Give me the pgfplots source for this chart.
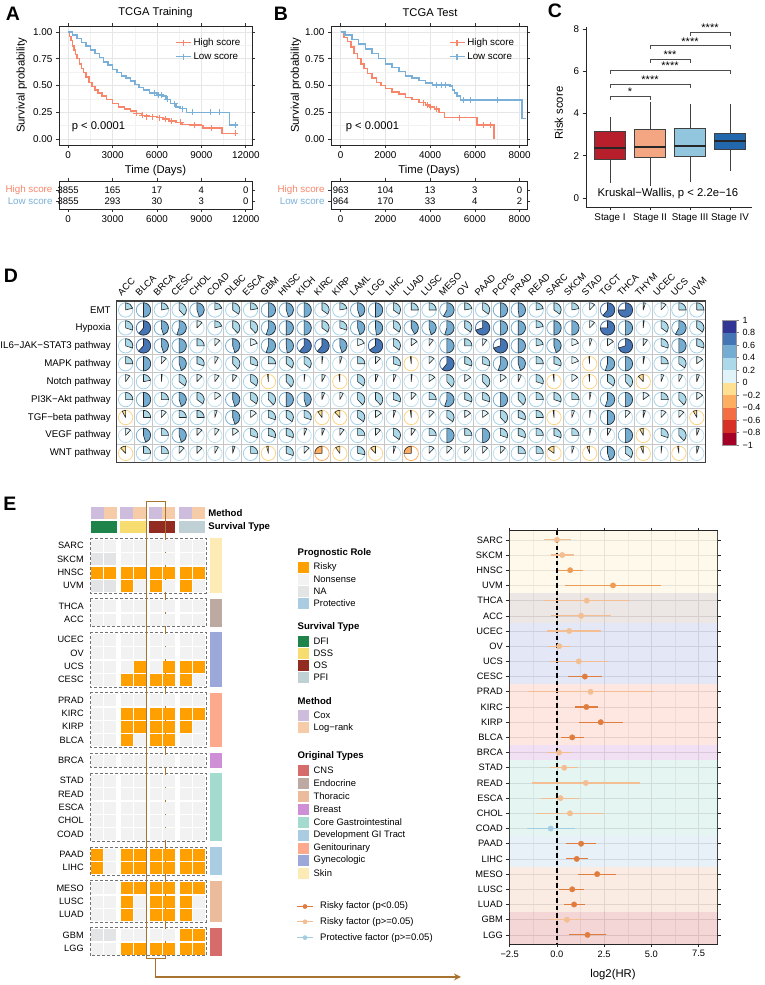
\documentclass[border=0pt]{standalone}
\usepackage{fontspec}
\setmainfont{Liberation Sans}
\usepackage{pgfplots}
\usepackage{pgfplotstable}
\pgfplotsset{compat=1.18}
\usepgfplotslibrary{statistics}
\usetikzlibrary{arrows.meta}
\newcommand{\fs}[1]{\fontsize{#1}{#1}\selectfont}
\pgfplotsset{/pgf/number format/assume math mode=true, scaled ticks=false}

\definecolor{hi}{HTML}{F8866A}
\definecolor{lo}{HTML}{7AB0D8}
\definecolor{gridc}{HTML}{E6E6E6}
\definecolor{gridm}{HTML}{F2F2F2}
\definecolor{st1}{HTML}{B71F2D}
\definecolor{st2}{HTML}{F4A582}
\definecolor{st3}{HTML}{92C5DE}
\definecolor{st4}{HTML}{2367AD}
\definecolor{rb1}{HTML}{A50026}
\definecolor{rb2}{HTML}{D73027}
\definecolor{rb3}{HTML}{F46D43}
\definecolor{rb4}{HTML}{FDAE61}
\definecolor{rb5}{HTML}{FEE090}
\definecolor{rb6}{HTML}{E0F3F8}
\definecolor{rb7}{HTML}{ABD9E9}
\definecolor{rb8}{HTML}{74ADD1}
\definecolor{rb9}{HTML}{4575B4}
\definecolor{rb10}{HTML}{313695}
\definecolor{rr5}{HTML}{FBD486}
\definecolor{rr6}{HTML}{BEE0EE}
\definecolor{rr7}{HTML}{A3D2E8}
\definecolor{risky}{HTML}{FFA000}
\definecolor{nons}{HTML}{F2F2F2}
\definecolor{nacol}{HTML}{E3E4E6}
\definecolor{prot}{HTML}{A9CCE3}
\definecolor{dfi}{HTML}{1E8449}
\definecolor{dss}{HTML}{F7DC6F}
\definecolor{os}{HTML}{922B21}
\definecolor{pfi}{HTML}{BFD1D5}
\definecolor{cox}{HTML}{CDBCDB}
\definecolor{logr}{HTML}{F6CBA8}
\definecolor{cns}{HTML}{D66B6B}
\definecolor{endo}{HTML}{BBA9A2}
\definecolor{thor}{HTML}{ECBB9B}
\definecolor{brea}{HTML}{CE8FD6}
\definecolor{cgi}{HTML}{A3DBCF}
\definecolor{dgi}{HTML}{A9CCE3}
\definecolor{geni}{HTML}{FCA98E}
\definecolor{gyne}{HTML}{9DA8DA}
\definecolor{skin}{HTML}{FDEBB6}
\definecolor{hl}{HTML}{A8732E}
\definecolor{fsig}{HTML}{E07D3E}
\definecolor{fsigl}{HTML}{EE9C55}
\definecolor{fns}{HTML}{F3BE92}
\definecolor{fprot}{HTML}{A3CDE3}

\def\pvg{0}
\newcommand\pickcol[1]{%
 \ifdim#1pt<-0.8pt \def\fc{rb1}\def\rc{rb1}\else
 \ifdim#1pt<-0.6pt \def\fc{rb2}\def\rc{rb2}\else
 \ifdim#1pt<-0.4pt \def\fc{rb3}\def\rc{rb3}\else
 \ifdim#1pt<-0.2pt \def\fc{rb4}\def\rc{rb4}\else
 \ifdim#1pt<0pt \def\fc{rb5}\def\rc{rr5}\else
 \ifdim#1pt<0.2pt \def\fc{rb6}\def\rc{rr6}\else
 \ifdim#1pt<0.4pt \def\fc{rb7}\def\rc{rr7}\else
 \ifdim#1pt<0.6pt \def\fc{rb8}\def\rc{rb8}\else
 \ifdim#1pt<0.8pt \def\fc{rb9}\def\rc{rb9}\else
 \def\fc{rb10}\def\rc{rb10}\fi\fi\fi\fi\fi\fi\fi\fi\fi}
\pgfdeclareplotmark{pie}{%
  \pickcol{\pvg}%
  \pgfmathsetmacro\pieang{90-360*\pvg}%
  \draw[\rc, line width=0.8pt] (0pt,0pt) circle[radius=7.2pt];%
  \filldraw[fill=\fc, draw=black!85, line width=0.6pt, line join=round] (0pt,0pt) -- (0pt,7.2pt) arc[start angle=90, end angle=\pieang, radius=7.2pt] -- cycle;%
}

\pgfplotstableread{
r c1 c2 c3 c4 c5 c6 c7 c8 c9 c10 c11 c12 c13 c14 c15 c16 c17 c18 c19 c20 c21 c22 c23 c24 c25 c26 c27 c28 c29 c30 c31 c32 c33
1 0.21 0.5 0.22 0.38 0.45 0.21 0.35 0.22 0.5 0.45 0.5 0.35 0.22 0.45 0.5 0.35 0.25 0.25 0.58 0.22 0.35 0.5 0.48 0.22 0.35 0.22 0.12 0.61 0.75 0.05 0.12 0.25 0.25
2 0.3 0.61 0.45 0.55 0.12 0.21 0.38 0.38 0.55 0.5 0.5 0.35 0.3 0.45 0.48 0.35 0.42 0.45 0.55 0.35 0.7 0.5 0.5 0.22 0.5 0.5 0.12 0.75 0.5 0.02 0.35 0.58 0.35
3 0.3 0.62 0.45 0.5 0.25 0.12 0.45 0.19 0.55 0.48 0.61 0.61 0.45 0.19 0.65 0.35 0.15 0.1 0.5 0.25 0.1 0.7 0.5 0.22 0.45 0.19 0.05 0.15 0.7 0.1 0.3 0.5 0.3
4 0.25 0.5 0.12 0.45 0.3 0.08 0.38 0.3 0.25 0.35 0.35 0.02 0.05 0.25 0.12 0.3 -0.02 0.12 0.61 0.3 0.3 0.55 0.45 0.25 0.3 0.19 -0.02 0.55 0.5 0.03 0.25 0.35 0.15
5 0.1 0.22 0.02 0.35 0.12 0.1 0.1 0.35 -0.02 0.38 0.02 0.08 -0.02 0.35 0.06 0.06 0.02 0.15 0.38 0.15 0.38 0.15 0.07 0.3 -0.02 0.15 -0.02 0.35 0.38 -0.12 0.06 0.08 0.06
6 0.25 0.5 0.25 0.45 0.35 0.15 0.45 0.35 0.38 0.5 0.45 0.06 0.08 0.38 0.38 0.3 0.12 0.25 0.55 0.3 0.3 0.5 0.38 0.25 0.3 0.25 0.03 0.55 0.5 0.15 0.25 0.38 0.15
7 -0.08 0.25 0.12 0.25 0.25 0.05 0.45 0.15 0.3 0.35 0.3 -0.1 -0.12 0.35 0.15 0.05 -0.02 0.12 0.35 0.15 0.15 0.38 0.3 0.25 -0.02 0.06 0.02 0.5 0.12 0.05 0.12 0.12 -0.08
8 0.12 0.45 0.25 0.45 0.12 0.1 0.15 0.3 0.3 0.3 0.06 0.06 0.1 0.25 0.12 0.35 0.1 0.25 0.5 0.25 0.5 0.3 0.3 0.25 0.3 0.25 0.03 0.08 0.5 -0.08 0.3 0.38 0.06
9 -0.12 0.25 0.25 0.12 0.12 0.08 0.05 0.25 -0.04 0.3 0.12 -0.25 -0.1 0.28 -0.12 0.05 -0.25 0.12 0.12 0.12 0.12 0.12 0.25 0.25 -0.15 0.05 -0.06 0.45 0.35 -0.06 0.02 -0.03 0.05
}\pietab

\pgfplotstableread{
y c1 c2 c3 c4 c5 c6 c7 c8
0 N N N N N N N N
1 A A N N N N N N
2 R R R R R R R R
3 A A R N R N R N
4.525 N N N N N N N N
5.525 N N N N N N N N
7.05 N N N N N N N N
8.05 N N N N N N N N
9.05 N N N R N R R R
10.05 N N R R R R R N
11.575 N N N N N N N N
12.575 N N R R R R R R
13.575 N N R R R R R N
14.575 N N R N R R N N
16.1 N N N N N N N N
17.625 N N N N N N N N
18.625 N N N N N N N N
19.625 N N N N N N N N
20.625 N N N N N N N N
21.625 N N N N N N N N
23.15 R N R R R R R R
24.15 R N R R R R R R
25.675 N N R R R R R R
26.675 N N R N R R R N
27.675 N N R N R R R N
29.2 A A N N N N R R
30.2 N N R R R R R R
}\hm

\pgfplotsset{
 kmaxis/.style={anchor=north west, scale only axis, height=119pt, ymin=-0.056, ymax=1.056,
  ytick={0,0.25,0.5,0.75,1}, yticklabels={0.00,0.25,0.50,0.75,1.00},
  minor ytick={0.125,0.375,0.625,0.875},
  grid=both, major grid style={gridc, line width=0.6pt}, minor grid style={gridm, line width=0.4pt},
  tick align=outside, major tick length=3pt, minor tick length=0pt,
  tick style={black!80, line width=0.6pt}, axis line style={black!85, line width=0.8pt},
  tick label style={font=\fs{9.9}},
  xlabel={Time (Days)}, xlabel style={font=\fs{11.3}, at={(axis description cs:0.5,-0.215)}, anchor=center},
  ylabel={Survival probability}, ylabel style={font=\fs{11.3}, anchor=center},
  legend style={anchor=north west, draw=none, fill=none, font=\fs{9.8}, inner sep=0pt, row sep=1.5pt, cells={anchor=west}},
  legend image code/.code={\draw[mark repeat=2,mark phase=2,##1] plot coordinates {(0pt,0pt) (7.5pt,0pt) (15pt,0pt)};}},
 riskaxis/.style={anchor=north west, scale only axis, height=28pt, ymin=0.273, ymax=2.818, ytick={1,2},
  yticklabels={\textcolor{lo}{Low score},\textcolor{hi}{High score}},
  tick align=outside, major tick length=3pt, tick style={black!80, line width=0.6pt},
  axis line style={black!85, line width=0.8pt}, tick label style={font=\fs{9.8}}},
 rnum/.style={draw=none, nodes near coords, point meta=explicit symbolic, nodes near coords align={center},
  every node near coord/.append style={font=\fs{9.5}, anchor=center}},
}

\newcommand\lk[3]{\fill[#2] (298.3pt,-#1pt) ++(0pt,5.5pt) rectangle ++(11pt,-11pt); \node[anchor=west, inner sep=0pt, font=\fs{9.4}] at (313.5pt,-#1pt) {#3};}
\newcommand\lt[2]{\node[anchor=west, inner sep=0pt, font=\bfseries\fs{9.6}] at (297.5pt,-#1pt) {#2};}

\begin{document}
\begin{tikzpicture}
\useasboundingbox (0pt,0pt) rectangle (764pt,-985pt);
\node[font=\bfseries\fs{19.5}] at (13pt,-14pt) {A};
\node[font=\bfseries\fs{19.5}] at (281pt,-14pt) {B};
\node[font=\bfseries\fs{19.5}] at (555pt,-11pt) {C};
\node[font=\bfseries\fs{19.5}] at (11pt,-276pt) {D};
\node[font=\bfseries\fs{19.5}] at (10pt,-504pt) {E};
\node[font=\fs{11.2}] at (155.5pt,-13pt) {TCGA Training};
\node[font=\fs{11.2}] at (430pt,-13pt) {TCGA Test};

% ---------------- A
\begin{axis}[kmaxis, at={(59pt,-26pt)}, width=193pt, xmin=-620, xmax=12420,
  xtick={0,3000,6000,9000,12000}, xticklabels={0,3000,6000,9000,12000},
  minor xtick={1500,4500,7500,10500},
  ylabel style={at={(axis description cs:-0.193,0.5)}},
  legend style={at={(axis description cs:0.6,0.915)}}]
\addplot[forget plot, hi, line width=1.5pt, const plot] coordinates {(0,1) (100,0.96) (200,0.92) (300,0.87) (400,0.83) (500,0.79) (600,0.75) (750,0.70) (900,0.66) (1050,0.62) (1200,0.58) (1400,0.53) (1600,0.49) (1800,0.46) (2000,0.43) (2300,0.40) (2600,0.37) (3000,0.33) (3400,0.30) (3800,0.28) (4200,0.26) (4600,0.24) (5000,0.22) (5500,0.21) (6000,0.20) (6400,0.185) (6800,0.17) (7300,0.155) (7700,0.135) (8200,0.13) (9000,0.125) (9100,0.105) (10400,0.053) (11400,0.053)};
\addplot[forget plot, lo, line width=1.5pt, const plot] coordinates {(0,1) (300,0.97) (600,0.94) (900,0.90) (1200,0.87) (1500,0.83) (1800,0.80) (2100,0.76) (2400,0.72) (2700,0.69) (3000,0.65) (3300,0.62) (3600,0.59) (3900,0.57) (4200,0.54) (4500,0.51) (4800,0.48) (5100,0.46) (5500,0.43) (6000,0.41) (6400,0.40) (6600,0.37) (6900,0.33) (7300,0.30) (7600,0.285) (8000,0.25) (10900,0.13) (11450,0.13)};
\addplot[forget plot, hi, only marks, mark=+, mark size=3pt, line width=0.9pt] coordinates {(4600,0.24) (5000,0.22) (5300,0.21) (5700,0.21) (6200,0.2) (6600,0.185) (7000,0.17) (7600,0.155) (8500,0.13) (9700,0.105) (11300,0.053)};
\addplot[forget plot, lo, only marks, mark=+, mark size=3pt, line width=0.9pt] coordinates {(5800,0.43) (6100,0.41) (6300,0.41) (6700,0.37) (7200,0.33) (7700,0.285) (8400,0.25) (9600,0.25) (10200,0.25) (11300,0.13)};
\addlegendimage{hi, line width=1.5pt, mark=+, mark size=3pt}
\addlegendentry{High score}
\addlegendimage{lo, line width=1.5pt, mark=+, mark size=3pt}
\addlegendentry{Low score}
\node[anchor=west, inner sep=0pt, font=\fs{11.2}] at (axis cs:230,0.115) {p < 0.0001};
\end{axis}
\begin{axis}[riskaxis, at={(59pt,-181pt)}, width=193pt, xmin=-620, xmax=12420,
  xtick={0,3000,6000,9000,12000}, xticklabels={0,3000,6000,9000,12000}]
\addplot[rnum] coordinates {(0,2)[3855] (3000,2)[165] (6000,2)[17] (9000,2)[4] (12000,2)[0] (0,1)[3855] (3000,1)[293] (6000,1)[30] (9000,1)[3] (12000,1)[0]};
\end{axis}

% ---------------- B
\begin{axis}[kmaxis, at={(331pt,-26pt)}, width=196pt, xmin=-434, xmax=8335,
  xtick={0,2000,4000,6000,8000}, xticklabels={0,2000,4000,6000,8000},
  minor xtick={1000,3000,5000,7000},
  ylabel style={at={(axis description cs:-0.179,0.5)}},
  legend style={at={(axis description cs:0.6,0.915)}}]
\addplot[forget plot, hi, line width=1.5pt, const plot] coordinates {(0,1) (150,0.95) (300,0.91) (450,0.86) (600,0.80) (750,0.75) (900,0.70) (1050,0.66) (1200,0.61) (1400,0.57) (1600,0.53) (1800,0.50) (2000,0.47) (2300,0.44) (2600,0.42) (2900,0.39) (3200,0.37) (3500,0.34) (3800,0.32) (4000,0.30) (4200,0.28) (4400,0.25) (4650,0.20) (6100,0.13) (6850,0.0)};
\addplot[forget plot, lo, line width=1.5pt, const plot] coordinates {(0,1) (200,0.97) (500,0.93) (800,0.89) (1100,0.84) (1400,0.80) (1700,0.75) (2000,0.70) (2300,0.67) (2600,0.63) (2900,0.59) (3200,0.57) (3500,0.545) (3800,0.525) (4100,0.505) (4900,0.495) (5000,0.46) (5100,0.43) (5200,0.40) (5350,0.365) (8100,0.19) (8300,0.19)};
\addplot[forget plot, hi, only marks, mark=+, mark size=3pt, line width=0.9pt] coordinates {(3700,0.34) (3900,0.32) (4000,0.30) (4300,0.28) (5300,0.20) (6400,0.13) (6700,0.13)};
\addplot[forget plot, lo, only marks, mark=+, mark size=3pt, line width=0.9pt] coordinates {(4300,0.505) (4500,0.505) (4700,0.505) (5500,0.365) (5800,0.365) (7000,0.365)};
\addlegendimage{hi, line width=1.5pt, mark=+, mark size=3pt}
\addlegendentry{High score}
\addlegendimage{lo, line width=1.5pt, mark=+, mark size=3pt}
\addlegendentry{Low score}
\node[anchor=west, inner sep=0pt, font=\fs{11.2}] at (axis cs:224,0.115) {p < 0.0001};
\end{axis}
\begin{axis}[riskaxis, at={(331pt,-181pt)}, width=196pt, xmin=-434, xmax=8335,
  xtick={0,2000,4000,6000,8000}, xticklabels={0,2000,4000,6000,8000}]
\addplot[rnum] coordinates {(0,2)[963] (2000,2)[104] (4000,2)[13] (6000,2)[3] (8000,2)[0] (0,1)[964] (2000,1)[170] (4000,1)[33] (6000,1)[4] (8000,1)[2]};
\end{axis}

% ---------------- C
\begin{axis}[at={(586pt,-27pt)}, anchor=north west, scale only axis, width=166pt, height=180pt,
  xmin=0.4, xmax=4.55, ymin=-0.43, ymax=8.11,
  axis x line*=bottom, axis y line*=left, xtick pos=left, ytick pos=left,
  axis line style={black!85, line width=0.8pt},
  xtick={1,2,3,4}, xticklabels={Stage I,Stage II,Stage III,Stage IV},
  ytick={0,2,4,6,8}, yticklabels={0,2,4,6,8},
  tick align=outside, major tick length=3.5pt, tick style={black!85, line width=0.8pt},
  tick label style={font=\fs{9.8}},
  ylabel={Risk score}, ylabel style={font=\fs{11.3}, at={(axis description cs:-0.163,0.522)}, anchor=center},
  boxplot/draw direction=y,
  boxplot/every median/.style={draw=black!85, line width=2.2pt},
  clip=false]
\addplot[boxplot prepared={median=2.36, upper quartile=3.18, lower quartile=1.85, upper whisker=3.83, lower whisker=0.70, draw position=1, box extend=0.78, whisker extend=0}, fill=st1, draw=black!75, line width=0.8pt] coordinates {};
\addplot[boxplot prepared={median=2.42, upper quartile=3.27, lower quartile=1.90, upper whisker=4.57, lower whisker=0.58, draw position=2, box extend=0.78, whisker extend=0}, fill=st2, draw=black!75, line width=0.8pt] coordinates {};
\addplot[boxplot prepared={median=2.47, upper quartile=3.30, lower quartile=1.98, upper whisker=4.44, lower whisker=0.77, draw position=3, box extend=0.78, whisker extend=0}, fill=st3, draw=black!75, line width=0.8pt] coordinates {};
\addplot[boxplot prepared={median=2.69, upper quartile=3.04, lower quartile=2.31, upper whisker=4.44, lower whisker=1.29, draw position=4, box extend=0.78, whisker extend=0}, fill=st4, draw=black!75, line width=0.8pt] coordinates {};
\addplot[black!70, line width=0.6pt] coordinates {(1,4.65) (1,4.81) (2,4.81) (2,4.65)};
\addplot[black!70, line width=0.6pt] coordinates {(1,5.23) (1,5.39) (3,5.39) (3,5.23)};
\addplot[black!70, line width=0.6pt] coordinates {(1,5.88) (1,6.04) (4,6.04) (4,5.88)};
\addplot[black!70, line width=0.6pt] coordinates {(2,6.42) (2,6.58) (3,6.58) (3,6.42)};
\addplot[black!70, line width=0.6pt] coordinates {(2,7.06) (2,7.22) (4,7.22) (4,7.06)};
\addplot[black!70, line width=0.6pt] coordinates {(3,7.70) (3,7.86) (4,7.86) (4,7.70)};
\node[font=\fs{11}, anchor=base, inner sep=0pt] at (axis cs:1.5,4.84) {*};
\node[font=\fs{11}, anchor=base, inner sep=0pt] at (axis cs:2,5.42) {****};
\node[font=\fs{11}, anchor=base, inner sep=0pt] at (axis cs:2.5,6.07) {****};
\node[font=\fs{11}, anchor=base, inner sep=0pt] at (axis cs:2.5,6.61) {***};
\node[font=\fs{11}, anchor=base, inner sep=0pt] at (axis cs:3,7.25) {****};
\node[font=\fs{11}, anchor=base, inner sep=0pt] at (axis cs:3.5,7.89) {****};
\node[font=\fs{11.3}, anchor=center] at (axis cs:2.45,0.19) {Kruskal−Wallis, p < 2.2e−16};
\end{axis}

% ---------------- D
\begin{axis}[at={(116.7pt,-301pt)}, anchor=north west, scale only axis, width=589pt, height=161.3pt,
  xmin=0.5, xmax=33.5, ymin=0.5, ymax=9.5, y dir=reverse,
  xtick={1,...,33},
  xticklabels={ACC,BLCA,BRCA,CESC,CHOL,COAD,DLBC,ESCA,GBM,HNSC,KICH,KIRC,KIRP,LAML,LGG,LIHC,LUAD,LUSC,MESO,OV,PAAD,PCPG,PRAD,READ,SARC,SKCM,STAD,TGCT,THCA,THYM,UCEC,UCS,UVM},
  xticklabel pos=right,
  xticklabel style={font=\fs{9.4}, inner sep=0pt, xshift=-4pt, yshift=4.5pt, rotate=45, anchor=south west},
  ytick={1,...,9},
  yticklabels={EMT,Hypoxia,IL6−JAK−STAT3 pathway,MAPK pathway,Notch pathway,PI3K−Akt pathway,TGF−beta pathway,VEGF pathway,WNT pathway},
  yticklabel style={font=\fs{9.7}, xshift=-2.5pt},
  major tick length=0pt, minor tick length=0pt,
  minor xtick={1.5,2.5,...,32.5}, minor ytick={1.5,2.5,...,8.5},
  grid=minor, minor grid style={black!22, line width=0.8pt},
  axis line style={black!75, line width=1.1pt},
  point meta min=-1, point meta max=1,
  clip=false]
\pgfplotsinvokeforeach{1,...,33}{
\addplot[scatter, only marks, mark=pie, point meta=\thisrow{c#1},
  scatter/@pre marker code/.code={\pgfmathsetmacro\pvg{\pgfplotspointmetatransformed/500-1}},
  scatter/@post marker code/.code={}] table[x expr=#1, y=r]{\pietab};
}
\end{axis}
\begin{axis}[at={(722.7pt,-320pt)}, anchor=north west, scale only axis, width=13.3pt, height=125pt,
  xmin=0, xmax=1, ymin=-1, ymax=1, xtick=\empty,
  ytick={-1,-0.8,-0.6,-0.4,-0.2,0,0.2,0.4,0.6,0.8,1},
  yticklabels={−1,−0.8,−0.6,−0.4,−0.2,0,0.2,0.4,0.6,0.8,1},
  yticklabel pos=right, ytick pos=right, tick align=outside, major tick length=3pt,
  tick style={black!50, line width=0.5pt}, axis line style={black!40, line width=0.6pt},
  tick label style={font=\fs{9}}, axis on top]
\addplot[fill=rb1, draw=none] coordinates {(0,-1) (1,-1) (1,-0.8) (0,-0.8)} -- cycle;
\addplot[fill=rb2, draw=none] coordinates {(0,-0.8) (1,-0.8) (1,-0.6) (0,-0.6)} -- cycle;
\addplot[fill=rb3, draw=none] coordinates {(0,-0.6) (1,-0.6) (1,-0.4) (0,-0.4)} -- cycle;
\addplot[fill=rb4, draw=none] coordinates {(0,-0.4) (1,-0.4) (1,-0.2) (0,-0.2)} -- cycle;
\addplot[fill=rb5, draw=none] coordinates {(0,-0.2) (1,-0.2) (1,0) (0,0)} -- cycle;
\addplot[fill=rb6, draw=none] coordinates {(0,0) (1,0) (1,0.2) (0,0.2)} -- cycle;
\addplot[fill=rb7, draw=none] coordinates {(0,0.2) (1,0.2) (1,0.4) (0,0.4)} -- cycle;
\addplot[fill=rb8, draw=none] coordinates {(0,0.4) (1,0.4) (1,0.6) (0,0.6)} -- cycle;
\addplot[fill=rb9, draw=none] coordinates {(0,0.6) (1,0.6) (1,0.8) (0,0.8)} -- cycle;
\addplot[fill=rb10, draw=none] coordinates {(0,0.8) (1,0.8) (1,1) (0,1)} -- cycle;
\end{axis}

% ---------------- E heatmap
\begin{axis}[at={(89.2pt,-500.4pt)}, anchor=north west, x=13pt, y=13.33pt, y dir=reverse,
  xmin=0.4, xmax=10.7, ymin=-3.4, ymax=31.0, enlargelimits=false,
  axis line style={draw=none}, xtick=\empty, major tick length=0pt,
  ytick={0,1,2,3,4.525,5.525,7.05,8.05,9.05,10.05,11.575,12.575,13.575,14.575,16.1,17.625,18.625,19.625,20.625,21.625,23.15,24.15,25.675,26.675,27.675,29.2,30.2},
  yticklabels={SARC,SKCM,HNSC,UVM,THCA,ACC,UCEC,OV,UCS,CESC,PRAD,KIRC,KIRP,BLCA,BRCA,STAD,READ,ESCA,CHOL,COAD,PAAD,LIHC,MESO,LUSC,LUAD,GBM,LGG},
  tick label style={font=\fs{9.2}}, yticklabel style={xshift=-2pt},
  clip=false,
  hmcell/.style={scatter, only marks, point meta=explicit symbolic,
    scatter/classes={R={mark=square*, risky}, N={mark=square*, nons}, A={mark=square*, nacol}},
    mark size=5.4pt}]
\addplot[fill=cox, draw=none] coordinates {(0.5,-2.88) (1.5,-2.88) (1.5,-2.0) (0.5,-2.0)} -- cycle;
\addplot[fill=logr, draw=none] coordinates {(1.5,-2.88) (2.5,-2.88) (2.5,-2.0) (1.5,-2.0)} -- cycle;
\addplot[fill=cox, draw=none] coordinates {(2.77,-2.88) (3.77,-2.88) (3.77,-2.0) (2.77,-2.0)} -- cycle;
\addplot[fill=logr, draw=none] coordinates {(3.77,-2.88) (4.77,-2.88) (4.77,-2.0) (3.77,-2.0)} -- cycle;
\addplot[fill=cox, draw=none] coordinates {(5.02,-2.88) (6.02,-2.88) (6.02,-2.0) (5.02,-2.0)} -- cycle;
\addplot[fill=logr, draw=none] coordinates {(6.02,-2.88) (7.02,-2.88) (7.02,-2.0) (6.02,-2.0)} -- cycle;
\addplot[fill=cox, draw=none] coordinates {(7.3,-2.88) (8.3,-2.88) (8.3,-2.0) (7.3,-2.0)} -- cycle;
\addplot[fill=logr, draw=none] coordinates {(8.3,-2.88) (9.3,-2.88) (9.3,-2.0) (8.3,-2.0)} -- cycle;
\addplot[fill=dfi, draw=none] coordinates {(0.5,-1.85) (2.5,-1.85) (2.5,-0.975) (0.5,-0.975)} -- cycle;
\addplot[fill=dss, draw=none] coordinates {(2.77,-1.85) (4.77,-1.85) (4.77,-0.975) (2.77,-0.975)} -- cycle;
\addplot[fill=os, draw=none] coordinates {(5.02,-1.85) (7.02,-1.85) (7.02,-0.975) (5.02,-0.975)} -- cycle;
\addplot[fill=pfi, draw=none] coordinates {(7.3,-1.85) (9.3,-1.85) (9.3,-0.975) (7.3,-0.975)} -- cycle;
\addplot[hmcell] table[x expr=1, y=y, meta=c1]{\hm};
\addplot[hmcell] table[x expr=2, y=y, meta=c2]{\hm};
\addplot[hmcell] table[x expr=3.27, y=y, meta=c3]{\hm};
\addplot[hmcell] table[x expr=4.27, y=y, meta=c4]{\hm};
\addplot[hmcell] table[x expr=5.52, y=y, meta=c5]{\hm};
\addplot[hmcell] table[x expr=6.52, y=y, meta=c6]{\hm};
\addplot[hmcell] table[x expr=7.8, y=y, meta=c7]{\hm};
\addplot[hmcell] table[x expr=8.8, y=y, meta=c8]{\hm};
\pgfplotsset{gbox/.style={black!55, line width=0.8pt, dash pattern=on 3pt off 2pt}}
\addplot[gbox] coordinates {(0.46,-0.55) (9.38,-0.55) (9.38,3.55) (0.46,3.55)} -- cycle;
\addplot[gbox] coordinates {(0.46,3.975) (9.38,3.975) (9.38,6.075) (0.46,6.075)} -- cycle;
\addplot[gbox] coordinates {(0.46,6.5) (9.38,6.5) (9.38,10.6) (0.46,10.6)} -- cycle;
\addplot[gbox] coordinates {(0.46,11.025) (9.38,11.025) (9.38,15.125) (0.46,15.125)} -- cycle;
\addplot[gbox] coordinates {(0.46,15.55) (9.38,15.55) (9.38,16.65) (0.46,16.65)} -- cycle;
\addplot[gbox] coordinates {(0.46,17.075) (9.38,17.075) (9.38,22.175) (0.46,22.175)} -- cycle;
\addplot[gbox] coordinates {(0.46,22.6) (9.38,22.6) (9.38,24.7) (0.46,24.7)} -- cycle;
\addplot[gbox] coordinates {(0.46,25.125) (9.38,25.125) (9.38,28.225) (0.46,28.225)} -- cycle;
\addplot[gbox] coordinates {(0.46,28.65) (9.38,28.65) (9.38,30.75) (0.46,30.75)} -- cycle;
\addplot[fill=skin, draw=none] coordinates {(9.69,-0.55) (10.59,-0.55) (10.59,3.55) (9.69,3.55)} -- cycle;
\addplot[fill=endo, draw=none] coordinates {(9.69,3.975) (10.59,3.975) (10.59,6.075) (9.69,6.075)} -- cycle;
\addplot[fill=gyne, draw=none] coordinates {(9.69,6.5) (10.59,6.5) (10.59,10.6) (9.69,10.6)} -- cycle;
\addplot[fill=geni, draw=none] coordinates {(9.69,11.025) (10.59,11.025) (10.59,15.125) (9.69,15.125)} -- cycle;
\addplot[fill=brea, draw=none] coordinates {(9.69,15.55) (10.59,15.55) (10.59,16.65) (9.69,16.65)} -- cycle;
\addplot[fill=cgi, draw=none] coordinates {(9.69,17.075) (10.59,17.075) (10.59,22.175) (9.69,22.175)} -- cycle;
\addplot[fill=dgi, draw=none] coordinates {(9.69,22.6) (10.59,22.6) (10.59,24.7) (9.69,24.7)} -- cycle;
\addplot[fill=thor, draw=none] coordinates {(9.69,25.125) (10.59,25.125) (10.59,28.225) (9.69,28.225)} -- cycle;
\addplot[fill=cns, draw=none] coordinates {(9.69,28.65) (10.59,28.65) (10.59,30.75) (9.69,30.75)} -- cycle;
\addplot[hl, line width=1.5pt] coordinates {(4.82,-3.3) (6.28,-3.3) (6.28,30.95) (4.82,30.95)} -- cycle;
\addplot[hl, line width=1.3pt, -{Stealth[length=7pt,width=7pt]}] coordinates {(5.48,30.95) (5.48,32.35) (29.0,32.35)};
\node[anchor=west, inner sep=0pt, font=\bfseries\fs{9.6}] at (axis cs:9.55,-2.44) {Method};
\node[anchor=west, inner sep=0pt, font=\bfseries\fs{9.6}] at (axis cs:9.55,-1.41) {Survival Type};
\end{axis}

% ---------------- E legend
\lt{553.3}{Prognostic Role}
\lk{567.3}{risky}{Risky}
\lk{579.5}{nons}{Nonsense}
\lk{591.5}{nacol}{NA}
\lk{603.5}{prot}{Protective}
\lt{627.3}{Survival Type}
\lk{641.5}{dfi}{DFI}
\lk{653.5}{dss}{DSS}
\lk{665.5}{os}{OS}
\lk{677.5}{pfi}{PFI}
\lt{701.3}{Method}
\lk{715.7}{cox}{Cox}
\lk{727.7}{logr}{Log−rank}
\lt{755.7}{Original Types}
\lk{770}{cns}{CNS}
\lk{783}{endo}{Endocrine}
\lk{796}{thor}{Thoracic}
\lk{809}{brea}{Breast}
\lk{822}{cgi}{Core Gastrointestinal}
\lk{835}{dgi}{Development GI Tract}
\lk{848}{geni}{Genitourinary}
\lk{860.5}{gyne}{Gynecologic}
\lk{873.3}{skin}{Skin}
\draw[fsig, line width=1.2pt] (297pt,-906.5pt) -- (313pt,-906.5pt);
\fill[fsig] (305pt,-906.5pt) circle (2.4pt);
\node[anchor=west, inner sep=0pt, font=\fs{9.5}] at (320pt,-906.5pt) {Risky factor (p<0.05)};
\draw[fns, line width=1.2pt] (297pt,-921.8pt) -- (313pt,-921.8pt);
\fill[fns] (305pt,-921.8pt) circle (2.4pt);
\node[anchor=west, inner sep=0pt, font=\fs{9.5}] at (320pt,-921.8pt) {Risky factor (p>=0.05)};
\draw[fprot, line width=1.2pt] (297pt,-937.6pt) -- (313pt,-937.6pt);
\fill[fprot] (305pt,-937.6pt) circle (2.4pt);
\node[anchor=west, inner sep=0pt, font=\fs{9.5}] at (320pt,-937.6pt) {Protective factor (p>=0.05)};

% ---------------- E forest
\begin{axis}[at={(509.3pt,-530.7pt)}, anchor=north west, scale only axis, width=208.4pt, height=413.3pt,
  xmin=-2.52, xmax=8.51, ymin=0.4, ymax=27.6, y dir=reverse,
  xtick={-2.5,0,2.5,5,7.5}, xticklabels={−2.5,0.0,2.5,5.0,7.5},
  minor xtick={-1.25,1.25,3.75,6.25},
  ytick={1,...,27},
  yticklabels={SARC,SKCM,HNSC,UVM,THCA,ACC,UCEC,OV,UCS,CESC,PRAD,KIRC,KIRP,BLCA,BRCA,STAD,READ,ESCA,CHOL,COAD,PAAD,LIHC,MESO,LUSC,LUAD,GBM,LGG},
  grid=both, major grid style={black!12, line width=0.6pt}, minor grid style={black!7, line width=0.4pt},
  tick align=outside, major tick length=3pt, minor tick length=0pt,
  axis line style={black!85, line width=0.9pt}, tick style={black!85, line width=0.6pt},
  tick label style={font=\fs{9.3}},
  xlabel={log2(HR)}, xlabel style={font=\fs{11.3}, at={(axis description cs:0.4976,-0.075)}, anchor=center},
  band/.style={fill=#1, fill opacity=0.28, draw=none}]
\addplot[band=skin] coordinates {(-2.52,0.4) (8.51,0.4) (8.51,4.5) (-2.52,4.5)} -- cycle;
\addplot[band=endo] coordinates {(-2.52,4.5) (8.51,4.5) (8.51,6.5) (-2.52,6.5)} -- cycle;
\addplot[band=gyne] coordinates {(-2.52,6.5) (8.51,6.5) (8.51,10.5) (-2.52,10.5)} -- cycle;
\addplot[band=geni] coordinates {(-2.52,10.5) (8.51,10.5) (8.51,14.5) (-2.52,14.5)} -- cycle;
\addplot[band=brea] coordinates {(-2.52,14.5) (8.51,14.5) (8.51,15.5) (-2.52,15.5)} -- cycle;
\addplot[band=cgi] coordinates {(-2.52,15.5) (8.51,15.5) (8.51,20.5) (-2.52,20.5)} -- cycle;
\addplot[band=dgi] coordinates {(-2.52,20.5) (8.51,20.5) (8.51,22.5) (-2.52,22.5)} -- cycle;
\addplot[band=thor] coordinates {(-2.52,22.5) (8.51,22.5) (8.51,25.5) (-2.52,25.5)} -- cycle;
\addplot[band=cns] coordinates {(-2.52,25.5) (8.51,25.5) (8.51,27.6) (-2.52,27.6)} -- cycle;
\addplot[black, line width=1.3pt, dash pattern=on 4.5pt off 3pt] coordinates {(0,0.4) (0,27.6)};
\addplot[only marks, mark=*, mark size=2.7pt, color=fns, error bars/.cd, x dir=both, x explicit, error bar style={line width=1.1pt}, error mark options={line width=1.1pt, mark size=2.4pt}]
 table[x=x, y=y, x error plus=ep, x error minus=em, row sep=\\] {x y ep em\\ 0.0 1 0.63 0.56\\ 0.28 2 0.49 0.49\\ 1.58 5 2.15 2.14\\ 1.28 6 1.46 1.44\\ 0.65 7 1.58 1.05\\ 0.12 8 0.44 0.45\\ 1.16 9 1.42 1.42\\ 1.78 11 3.21 3.20\\ 0.11 15 0.52 0.51\\ 0.39 16 0.61 0.62\\ 1.53 17 2.74 2.74\\ 0.19 18 0.86 0.88\\ 0.69 19 1.70 1.69\\ 0.53 26 0.68 0.76\\};
\addplot[only marks, mark=*, mark size=2.7pt, color=fprot, error bars/.cd, x dir=both, x explicit, error bar style={line width=1.1pt}, error mark options={line width=1.1pt, mark size=2.4pt}]
 table[x=x, y=y, x error plus=ep, x error minus=em, row sep=\\] {x y ep em\\ -0.33 20 1.14 1.15\\};
\addplot[only marks, mark=*, mark size=2.7pt, color=fsigl, error bars/.cd, x dir=both, x explicit, error bar style={line width=1.1pt}, error mark options={line width=1.1pt, mark size=2.4pt}]
 table[x=x, y=y, x error plus=ep, x error minus=em, row sep=\\] {x y ep em\\ 0.70 3 0.57 0.54\\ 2.97 4 2.43 2.39\\};
\addplot[only marks, mark=*, mark size=2.7pt, color=fsig, error bars/.cd, x dir=both, x explicit, error bar style={line width=1.1pt}, error mark options={line width=1.1pt, mark size=2.4pt}]
 table[x=x, y=y, x error plus=ep, x error minus=em, row sep=\\] {x y ep em\\ 1.48 10 0.77 0.78\\ 1.56 12 0.48 0.45\\ 2.32 13 1.05 1.05\\ 0.81 14 0.47 0.49\\ 1.28 21 0.67 0.68\\ 1.05 22 0.46 0.43\\ 2.13 23 0.87 0.88\\ 0.81 24 0.51 0.55\\ 0.91 25 0.43 0.42\\ 1.62 27 0.86 0.86\\};
\end{axis}
\end{tikzpicture}
\end{document}
